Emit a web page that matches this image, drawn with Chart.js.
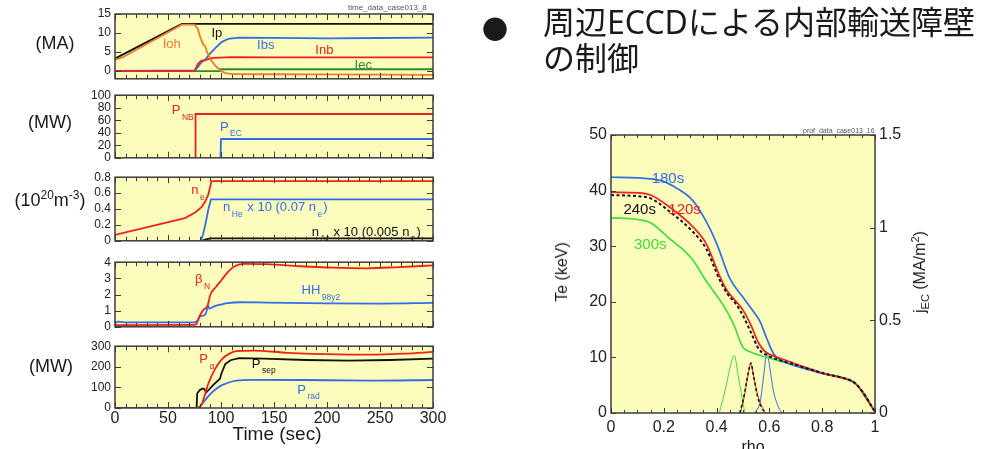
<!DOCTYPE html>
<html lang="ja">
<head>
<meta charset="utf-8">
<title>ECCD ITB control</title>
<script src="https://cdn.jsdelivr.net/npm/chart.js@4.4.1/dist/chart.umd.min.js"></script>
<style>
  html, body { margin: 0; padding: 0; }
  body { width: 982px; height: 449px; position: relative; overflow: hidden; background: #fff;
         font-family: "Liberation Sans", Arial, sans-serif; color: #1a1a1a; }
  canvas { position: absolute; }
  .lbl { position: absolute; transform: translate(-50%, -50%); white-space: nowrap; }
  .unit { font-size: 18px; }
  .unit sup { font-size: 12px; vertical-align: 7px; line-height: 0; }
  .rot { transform: translate(-50%, -50%) rotate(-90deg); font-size: 16px; }
  .rot sub { font-size: 11px; vertical-align: -4px; line-height: 0; }
  .rot sup { font-size: 11px; vertical-align: 6px; line-height: 0; }
  .tag { position: absolute; font-size: 8px; color: #555; white-space: nowrap; }
  .jp { position: absolute; left: 543px; top: 4px; font-family: "Noto Sans", "Noto Sans CJK JP", sans-serif;
        font-size: 32px; line-height: 36px; color: #1a1a1a; white-space: nowrap; }
  .bullet { position: absolute; font-family: "Noto Sans CJK JP", sans-serif; font-size: 26px; }
</style>
</head>
<body>

<canvas id="p1" width="450" height="90" style="left:0;top:0"></canvas>
<canvas id="p2" width="450" height="85" style="left:0;top:84px"></canvas>
<canvas id="p3" width="450" height="86" style="left:0;top:166px"></canvas>
<canvas id="p4" width="450" height="87" style="left:0;top:251px"></canvas>
<canvas id="p5" width="450" height="114" style="left:0;top:335px"></canvas>
<canvas id="prof" width="420" height="329" style="left:540px;top:120px"></canvas>

<div class="lbl unit" style="left:55px;top:43px">(MA)</div>
<div class="lbl unit" style="left:50px;top:122px">(MW)</div>
<div class="lbl unit" style="left:50px;top:200px">(10<sup>20</sup>m<sup>-3</sup>)</div>
<div class="lbl unit" style="left:51px;top:366px">(MW)</div>
<div class="lbl" style="left:277px;top:434px;font-size:19px">Time (sec)</div>
<div class="tag" style="left:348px;top:3px">time_data_case013_8</div>

<div class="bullet" style="left:482px;top:9px">●</div>
<div class="jp">周辺ECCDによる内部輸送障壁<br>の制御</div>

<div class="lbl rot" style="left:562px;top:272px">Te (keV)</div>
<div class="lbl rot" style="left:920px;top:272px">j<sub>EC</sub> (MA/m<sup>2</sup>)</div>
<div class="lbl" style="left:753px;top:447px;font-size:16px">rho</div>
<div class="tag" style="left:803px;top:127px;font-size:7px">prof_data_case013_16</div>

<script>
// ---------- currents (MA) ----------
const ipT  = [0, 63, 300];
const ipV  = [3.3, 12.4, 12.4];
const iohT = [0, 3, 7, 63, 75, 78, 80, 83, 85, 87, 90, 95, 99, 104, 112, 140, 200, 300];
const iohV = [3.1, 3.2, 3.6, 12.2, 12.2, 11.2, 9.3, 7.1, 6.6, 4.9, 3.1, 1.3, 0.3, -0.5, -0.75, -0.8, -0.85, -0.95];
const ibsT = [0, 75, 78, 80, 83, 85, 89, 95, 101, 107, 117, 150, 200, 250, 300];
const ibsV = [0.1, 0.2, 1.0, 1.8, 2.7, 3.0, 4.4, 6.2, 7.7, 8.5, 8.8, 8.75, 8.6, 8.7, 8.8];
const inbT = [0, 75, 78, 81, 84, 87, 93, 110, 150, 300];
const inbV = [0, 0, 1.8, 2.7, 2.8, 3.1, 3.5, 3.7, 3.6, 3.6];
const iecT = [0, 99, 99.5, 300];
const iecV = [0, 0, 0.5, 0.5];

// ---------- heating power (MW) ----------
const pnbT = [75.5, 76, 300];
const pnbV = [0, 70, 70];
const pecT = [99.5, 100, 300];
const pecV = [0, 30, 30];

// ---------- densities (1e20 m^-3) ----------
const neT = [0, 66, 76, 82, 85, 88, 91, 300];
const neV = [0.075, 0.285, 0.36, 0.43, 0.49, 0.58, 0.75, 0.75];
const heT = [81, 83, 85, 88, 90.5, 300];
const heV = [0, 0.08, 0.19, 0.39, 0.52, 0.52];
const arT = [82, 85, 90, 300];
const arV = [0, 0.015, 0.03, 0.03];

// ---------- beta_N, HH98y2 ----------
const bnT = [0, 75, 77, 80, 84, 87, 88.5, 90, 95, 100, 106, 112, 121, 143, 175, 206, 237, 268, 300];
const bnV = [0.1, 0.12, 0.2, 0.7, 1.1, 1.25, 1.6, 2.0, 2.45, 2.85, 3.35, 3.72, 3.9, 3.88, 3.75, 3.66, 3.62, 3.7, 3.8];
const hhT = [0, 3, 8, 75, 78, 80, 85, 86.5, 87.5, 89, 93, 100, 106, 118, 143, 200, 250, 300];
const hhV = [0.22, 0.32, 0.28, 0.28, 0.4, 0.62, 0.75, 1.0, 1.35, 1.12, 1.25, 1.38, 1.46, 1.52, 1.5, 1.45, 1.44, 1.48];

// ---------- alpha / separatrix / radiated power (MW) ----------
const paT = [0, 78, 82, 88, 94.5, 101, 108, 114.5, 131, 163, 210, 241, 273, 300];
const paV = [0, 0, 20, 118, 190, 237, 264, 276, 279, 268, 260, 259, 264, 272];
const psT = [0, 77, 77.5, 80, 83, 84.5, 86, 89, 92.5, 99, 100.5, 104, 109, 117, 140, 180, 220, 260, 300];
const psV = [0, 0, 70, 87, 95, 91, 75, 91, 111, 142, 169, 213, 232, 242, 240, 233, 230, 233, 240];
const prT = [0, 78, 84, 90.5, 96, 101, 108, 114.5, 131, 178, 241, 300];
const prV = [0, 0, 32, 71, 95, 111, 125, 133, 137, 136, 133, 136];

// ---------- Te profiles (keV) ----------
const rho180 = [0, 0.1, 0.19, 0.25, 0.31, 0.36, 0.4, 0.45, 0.5, 0.54, 0.565, 0.59, 0.615, 0.64, 0.69, 0.75, 0.8, 0.87, 0.92, 0.95, 1.0];
const te180  = [42.4, 42.3, 41.8, 40.4, 38.2, 34.5, 30.5, 24.2, 20.8, 18.2, 16.4, 13.4, 10.7, 9.6, 8.6, 7.8, 7.1, 6.4, 5.5, 4.0, 0.2];
const rho120 = [0, 0.1, 0.15, 0.223, 0.31, 0.36, 0.413, 0.44, 0.475, 0.5, 0.53, 0.56, 0.585, 0.62, 0.69, 0.75, 0.816, 0.87, 0.92, 0.95, 1.0];
const te120  = [39.7, 39.6, 39.2, 37.0, 33.5, 30.5, 24.5, 22.0, 20.0, 18.5, 15.8, 12.5, 11.0, 10.2, 9.0, 8.0, 7.0, 6.4, 5.5, 4.0, 0.2];
const rho240 = [0, 0.1, 0.15, 0.223, 0.31, 0.36, 0.413, 0.44, 0.475, 0.5, 0.53, 0.56, 0.59, 0.62, 0.69, 0.75, 0.816, 0.87, 0.92, 0.95, 1.0];
const te240  = [39.2, 39.0, 38.6, 36.2, 32.6, 29.6, 23.8, 21.5, 19.5, 17.5, 14.5, 11.5, 10.4, 9.8, 8.8, 7.9, 7.0, 6.4, 5.5, 4.0, 0.2];
const rho300 = [0, 0.1, 0.15, 0.223, 0.27, 0.31, 0.36, 0.425, 0.463, 0.5, 0.527, 0.627, 0.7, 0.75, 0.817, 0.867, 0.925, 0.96, 1.0];
const te300  = [35.1, 34.8, 34.2, 31.3, 29.5, 27.5, 23.8, 19.4, 16.1, 11.8, 11.0, 9.5, 8.5, 7.8, 7.0, 6.5, 5.4, 3.0, 0.2];

// ---------- EC current density (MA/m^2) ----------
const jRho300 = [0.41, 0.432, 0.45, 0.467, 0.482, 0.498, 0.507];
const jec300  = [0, 0.12, 0.24, 0.31, 0.2, 0.07, 0];
const jRho120 = [0.49, 0.505, 0.52, 0.529, 0.54, 0.555, 0.57, 0.585];
const jec120  = [0, 0.09, 0.21, 0.265, 0.2, 0.1, 0.04, 0];
const jRho240 = [0.488, 0.505, 0.52, 0.53, 0.54, 0.555, 0.57, 0.585];
const jec240  = [0, 0.1, 0.22, 0.27, 0.2, 0.09, 0.03, 0];
const jRho180 = [0.545, 0.565, 0.58, 0.59, 0.6, 0.615, 0.635, 0.647];
const jec180  = [0, 0.06, 0.22, 0.33, 0.26, 0.12, 0.03, 0];

// axis ticks
const timeTicks = [0, 50, 100, 150, 200, 250, 300];
const curTicks = [0, 5, 10, 15];
const pwrTicks = [0, 20, 40, 60, 80, 100];
const denTicks = [0, 0.2, 0.4, 0.6, 0.8];
const betaTicks = [0, 1, 2, 3, 4];
const palTicks = [0, 100, 200, 300];
const rhoTicks = [0, 0.2, 0.4, 0.6, 0.8, 1];
const teTicks = [0, 10, 20, 30, 40, 50];
const jecTicks = [0, 0.5, 1, 1.5];

const RED = '#f0201e', BLUE = '#2f6ee6', ORANGE = '#f07a2a', DGREEN = '#2a8c2a',
      BLACK = '#111111', LGREEN = '#3ee03e', YELLOW = '#fcfcbd';
const FONT = '"Liberation Sans", Arial, sans-serif';

function xy(xs, ys) { return xs.map((x, i) => ({ x: x, y: ys[i] })); }

function line(xs, ys, color, extra) {
  return Object.assign({
    data: xy(xs, ys), borderColor: color, borderWidth: 1.8, pointRadius: 0,
    tension: 0, fill: false
  }, extra || {});
}

// yellow plot area, boxed frame, inward ticks and in-plot labels
const framePlugin = {
  id: 'frame',
  beforeDatasetsDraw(chart) {
    const a = chart.chartArea, ctx = chart.ctx;
    ctx.save();
    ctx.fillStyle = YELLOW;
    ctx.fillRect(a.left, a.top, a.right - a.left, a.bottom - a.top);
    ctx.restore();
  },
  afterDatasetsDraw(chart, args, o) {
    const a = chart.chartArea, ctx = chart.ctx;
    const sx = chart.scales.x, sy = chart.scales.y, sy2 = chart.scales.y2;
    ctx.save();
    ctx.strokeStyle = '#3c3c3c';
    ctx.lineWidth = 1;
    ctx.beginPath();
    const n = Math.round((sx.max - sx.min) / o.xMinor);
    for (let i = 0; i <= n; i++) {
      const v = sx.min + i * o.xMinor;
      const px = Math.round(sx.getPixelForValue(v)) + 0.5;
      const r = v / o.xMajor;
      const len = Math.abs(r - Math.round(r)) < 1e-6 ? o.major : o.minor;
      ctx.moveTo(px, a.bottom); ctx.lineTo(px, a.bottom - len);
      ctx.moveTo(px, a.top); ctx.lineTo(px, a.top + len);
    }
    sy.ticks.forEach(t => {
      const py = Math.round(sy.getPixelForValue(t.value)) + 0.5;
      ctx.moveTo(a.left, py); ctx.lineTo(a.left + o.major, py);
      if (!sy2) { ctx.moveTo(a.right, py); ctx.lineTo(a.right - o.major, py); }
    });
    if (sy2) {
      sy2.ticks.forEach(t => {
        const py = Math.round(sy2.getPixelForValue(t.value)) + 0.5;
        ctx.moveTo(a.right, py); ctx.lineTo(a.right - o.major, py);
      });
    }
    ctx.stroke();
    ctx.lineWidth = 1.5;
    ctx.strokeRect(a.left, a.top, a.right - a.left, a.bottom - a.top);

    ctx.textBaseline = 'middle';
    ctx.textAlign = 'left';
    (o.labels || []).forEach(l => {
      let x = sx.getPixelForValue(l.x);
      const y = sy.getPixelForValue(l.y);
      ctx.fillStyle = l.color;
      l.parts.forEach(p => {
        const sub = p[1];
        ctx.font = (sub ? o.subSize : o.size) + 'px ' + FONT;
        if (sub) x += 1.5;
        ctx.fillText(p[0], x, sub ? y + o.subShift : y);
        x += ctx.measureText(p[0]).width + (sub ? 1 : 0);
      });
    });
    ctx.restore();
  }
};

function fixedTicks(values) {
  return function (scale) { scale.ticks = values.map(v => ({ value: v })); };
}

function timePanel(id, o) {
  const showX = !!o.showX;
  return new Chart(document.getElementById(id), {
    type: 'line',
    data: { datasets: o.datasets },
    plugins: [framePlugin],
    options: {
      responsive: false,
      animation: false,
      events: [],
      layout: { autoPadding: false, padding: { left: 0, right: 17, top: o.padTop, bottom: o.padBottom } },
      scales: {
        x: {
          type: 'linear', min: 0, max: 300, display: showX,
          afterBuildTicks: fixedTicks(timeTicks),
          afterFit: s => { if (showX) s.height = 20; },
          grid: { display: false, drawTicks: false }, border: { display: false },
          ticks: { autoSkip: false, maxRotation: 0, padding: 1, color: '#222',
                   font: { family: FONT, size: 16 }, callback: v => String(v) }
        },
        y: {
          type: 'linear', min: o.min, max: o.max,
          afterBuildTicks: fixedTicks(o.ticks),
          afterFit: s => { s.width = 115; },
          grid: { display: false, drawTicks: false }, border: { display: false },
          ticks: { autoSkip: false, padding: 4, color: '#222',
                   font: { family: FONT, size: 12 }, callback: v => String(v) }
        }
      },
      plugins: {
        legend: { display: false },
        tooltip: { enabled: false },
        frame: { xMinor: 10, xMajor: 50, major: 6, minor: 4,
                 size: 13, subSize: 8.5, subShift: 7, labels: o.labels }
      }
    }
  });
}

// currents
timePanel('p1', {
  min: -2, max: 15, ticks: curTicks, padTop: 14, padBottom: 10,
  datasets: [
    line(iohT, iohV, ORANGE),
    line(ipT, ipV, BLACK),
    line(inbT, inbV, RED),
    line(ibsT, ibsV, BLUE),
    line(iecT, iecV, DGREEN)
  ],
  labels: [
    { x: 45, y: 6.9, color: ORANGE, parts: [['Ioh', 0]] },
    { x: 91, y: 9.9, color: BLACK, parts: [['Ip', 0]] },
    { x: 134, y: 6.7, color: BLUE, parts: [['Ibs', 0]] },
    { x: 189, y: 5.5, color: RED, parts: [['Inb', 0]] },
    { x: 226, y: 1.6, color: DGREEN, parts: [['Iec', 0]] }
  ]
});

// heating power
timePanel('p2', {
  min: 0, max: 100, ticks: pwrTicks, padTop: 10, padBottom: 10,
  datasets: [line(pnbT, pnbV, RED), line(pecT, pecV, BLUE)],
  labels: [
    { x: 53.5, y: 75, color: RED, parts: [['P', 0], ['NB', 1]] },
    { x: 99, y: 49, color: BLUE, parts: [['P', 0], ['EC', 1]] }
  ]
});

// densities
timePanel('p3', {
  min: 0, max: 0.8, ticks: denTicks, padTop: 10, padBottom: 10,
  datasets: [line(neT, neV, RED), line(heT, heV, BLUE), line(arT, arV, BLACK)],
  labels: [
    { x: 72, y: 0.63, color: RED, parts: [['n', 0], ['e', 1]] },
    { x: 102, y: 0.415, color: BLUE, parts: [['n', 0], ['He', 1], [' x 10 (0.07 n', 0], ['e', 1], [')', 0]] },
    { x: 185.5, y: 0.11, color: BLACK, parts: [['n', 0], ['Ar', 1], [' x 10 (0.005 n', 0], ['e', 1], [')', 0]] }
  ]
});

// normalised beta and confinement factor
timePanel('p4', {
  min: 0, max: 4, ticks: betaTicks, padTop: 10, padBottom: 10,
  datasets: [line(bnT, bnV, RED, { cubicInterpolationMode: 'monotone' }),
             line(hhT, hhV, BLUE, { cubicInterpolationMode: 'monotone' })],
  labels: [
    { x: 75.5, y: 2.95, color: RED, parts: [['\u03b2', 0], ['N', 1]] },
    { x: 176, y: 2.26, color: BLUE, parts: [['HH', 0], ['98y2', 1]] }
  ]
});

// alpha, separatrix and radiated power
timePanel('p5', {
  min: 0, max: 300, ticks: palTicks, padTop: 10, padBottom: 21, showX: true,
  datasets: [line(paT, paV, RED, { cubicInterpolationMode: 'monotone' }),
             line(psT, psV, BLACK),
             line(prT, prV, BLUE, { cubicInterpolationMode: 'monotone' })],
  labels: [
    { x: 79.5, y: 237, color: RED, parts: [['P', 0], ['\u03b1', 1]] },
    { x: 129, y: 213, color: BLACK, parts: [['P', 0], ['sep', 1]] },
    { x: 172, y: 87, color: BLUE, parts: [['P', 0], ['rad', 1]] }
  ]
});

// Te and j_EC radial profiles
const smooth = { cubicInterpolationMode: 'monotone', borderWidth: 1.7 };
const thin = { cubicInterpolationMode: 'monotone', borderWidth: 1, yAxisID: 'y2' };
new Chart(document.getElementById('prof'), {
  type: 'line',
  data: {
    datasets: [
      line(rho240, te240, BLACK, Object.assign({}, smooth, { borderDash: [3, 2.5], borderWidth: 2 })),
      line(rho120, te120, RED, smooth),
      line(rho180, te180, BLUE, smooth),
      line(rho300, te300, LGREEN, smooth),
      line(jRho240, jec240, BLACK, Object.assign({}, thin, { borderDash: [3, 2.5], borderWidth: 1.5 })),
      line(jRho120, jec120, RED, thin),
      line(jRho180, jec180, BLUE, thin),
      line(jRho300, jec300, LGREEN, thin)
    ]
  },
  plugins: [framePlugin],
  options: {
    responsive: false,
    animation: false,
    events: [],
    layout: { autoPadding: false, padding: { left: 0, right: 0, top: 15, bottom: 0 } },
    scales: {
      x: {
        type: 'linear', min: 0, max: 1,
        afterBuildTicks: fixedTicks(rhoTicks),
        afterFit: s => { s.height = 36; },
        grid: { display: false, drawTicks: false }, border: { display: false },
        ticks: { autoSkip: false, maxRotation: 0, padding: 5, color: '#222',
                 font: { family: FONT, size: 16 }, callback: v => String(v) }
      },
      y: {
        type: 'linear', position: 'left', min: 0, max: 50,
        afterBuildTicks: fixedTicks(teTicks),
        afterFit: s => { s.width = 71; },
        grid: { display: false, drawTicks: false }, border: { display: false },
        ticks: { autoSkip: false, padding: 4, color: '#222',
                 font: { family: FONT, size: 16 }, callback: v => String(v) }
      },
      y2: {
        type: 'linear', position: 'right', min: 0, max: 1.5,
        afterBuildTicks: fixedTicks(jecTicks),
        afterFit: s => { s.width = 85; },
        grid: { display: false, drawTicks: false }, border: { display: false },
        ticks: { autoSkip: false, padding: 4, color: '#222',
                 font: { family: FONT, size: 16 }, callback: v => String(v) }
      }
    },
    plugins: {
      legend: { display: false },
      tooltip: { enabled: false },
      frame: {
        xMinor: 0.05, xMajor: 0.2, major: 5, minor: 3, size: 15, subSize: 9, subShift: 7,
        labels: [
          { x: 0.154, y: 42.2, color: BLUE, parts: [['180s', 0]] },
          { x: 0.217, y: 36.5, color: RED, parts: [['120s', 0]] },
          { x: 0.047, y: 36.5, color: BLACK, parts: [['240s', 0]] },
          { x: 0.087, y: 30.2, color: LGREEN, parts: [['300s', 0]] }
        ]
      }
    }
  }
});
</script>
</body>
</html>
